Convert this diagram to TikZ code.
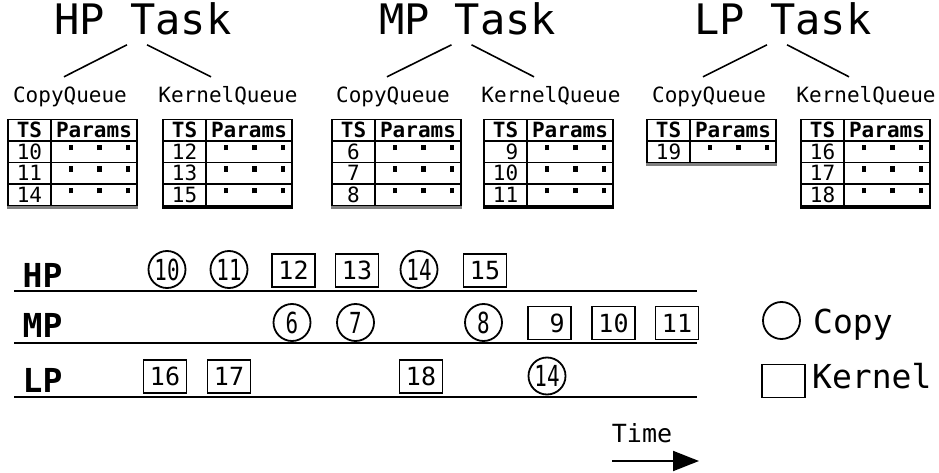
\documentclass[tikz,border=0pt]{standalone}
\usepackage{fontspec}
\setmainfont{DejaVu Sans Mono}
\newfontfamily\narrowmono[FakeStretch=0.72]{DejaVu Sans Mono}
\usetikzlibrary{arrows.meta}
\newcommand{\paramdots}{\hspace*{11pt}\rule[9pt]{4.5pt}{5.5pt}\hspace{24pt}\rule[9pt]{4.5pt}{5.5pt}\hspace{24pt}\rule[9pt]{4.5pt}{5.5pt}}

\begin{document}
\begin{tikzpicture}[
  x=1pt, y=-1pt,
  task/.style={font=\fontsize{42}{42}\selectfont, inner sep=0pt, anchor=base},
  queue/.style={font=\fontsize{21}{21}\selectfont, inner sep=0pt, anchor=base, text height=16pt, text depth=5pt},
  cell/.style={draw, line width=1.4pt, minimum height=21.5pt, inner sep=0pt, text height=15pt, text depth=0pt, font=\fontsize{21}{21}\selectfont},
  tscell/.style={cell, minimum width=43pt},
  parcell/.style={cell, minimum width=86pt},
  copyjob/.style={circle, draw, line width=1.8pt, minimum size=37pt, inner sep=0pt, font=\narrowmono\fontsize{29}{29}\selectfont},
  kerneljob/.style={rectangle, draw, line width=1.8pt, minimum width=43pt, minimum height=33pt, inner sep=0pt, font=\fontsize{25}{25}\selectfont},
  prio/.style={font=\bfseries\fontsize{33}{33}\selectfont, anchor=base west, inner sep=0pt},
  legend/.style={font=\fontsize{33}{33}\selectfont, anchor=base west, inner sep=0pt},
  lane/.style={line width=1.8pt},
  branch/.style={line width=1.6pt}
]
\useasboundingbox (0,0) rectangle (939,473);

\node[task] (hp) at (143,35) {HP Task};
\node[task] (mp) at (467.5,35) {MP Task};
\node[task] (lp) at (783,35) {LP Task};

\node[queue] (hp-cq) at (70,103) {CopyQueue};
\node[queue] (hp-kq) at (228,103) {KernelQueue};
\node[queue] (mp-cq) at (393,103) {CopyQueue};
\node[queue] (mp-kq) at (551,103) {KernelQueue};
\node[queue] (lp-cq) at (709,103) {CopyQueue};
\node[queue] (lp-kq) at (866,103) {KernelQueue};

\foreach \t in {hp,mp,lp} {
  \draw[branch] ([xshift=-16pt,yshift=-9pt]\t.south) -- ([xshift=-6pt,yshift=10pt]\t-cq.north);
  \draw[branch] ([xshift=4pt,yshift=-9pt]\t.south) -- ([xshift=-17pt,yshift=10pt]\t-kq.north);
}

\foreach \tb/\x/\vals/\n/\shade in {hpc/8/{10,11,14}/3/gray, hpk/163/{12,13,15}/3/black,
    mpc/332/{6,7,8}/3/gray, mpk/484/{{\phantom{1}9},10,11}/3/black,
    lpc/647/{19}/1/gray, lpk/801/{16,17,18}/3/black} {
  \node[tscell] (\tb-0-1) at (\x+21.5,130.25) {\textbf{TS}};
  \node[parcell] (\tb-0-2) at (\x+86,130.25) {\textbf{Params}};
  \foreach \v [count=\i] in \vals {
    \node[tscell] (\tb-\i-1) at (\x+21.5,130.25+21.5*\i) {\v};
    \node[parcell] (\tb-\i-2) at (\x+86,130.25+21.5*\i) {\paramdots};
  }
  \draw[line width=3.5pt,\shade] ([yshift=-1.5pt]\tb-\n-1.south west) -- ([yshift=-1.5pt]\tb-\n-2.south east);
}

\node[prio] (hprow) at (22.5,287) {HP};
\node[prio] (mprow) at (22.5,337) {MP};
\node[prio] (lprow) at (22.5,392) {LP};
\draw[lane] (14,291) -- (697,291);
\draw[lane] (14,343) -- (697,343);
\draw[lane] (14,397) -- (697,397);

\node[copyjob] (hp10) at (167,269.5) {10};
\node[copyjob] (hp11) at (229,269.5) {11};
\node[kerneljob] (hp12) at (293.5,270.5) {12};
\node[kerneljob] (hp13) at (357,270.5) {13};
\node[copyjob] (hp14) at (419,269.5) {14};
\node[kerneljob] (hp15) at (485,270.5) {15};

\node[copyjob] (mp6) at (292,322.5) {6};
\node[copyjob] (mp7) at (355.5,322.5) {7};
\node[copyjob] (mp8) at (483.5,322.5) {8};
\node[kerneljob] (mp9) at (549.5,323) {\phantom{1}9};
\node[kerneljob] (mp10) at (613.5,323) {10};
\node[kerneljob] (mp11) at (677,323) {11};

\node[kerneljob] (lp16) at (165,376.5) {16};
\node[kerneljob] (lp17) at (229,376.5) {17};
\node[kerneljob] (lp18) at (421,376.5) {18};
\node[copyjob] (lp14) at (547,376) {14};

\node[copyjob] (lgc) at (781.5,320.5) {};
\node[legend] (lgct) at (813,333) {Copy};
\node[kerneljob] (lgk) at (783.5,381) {};
\node[legend] (lgkt) at (812,388) {Kernel};

\node[font=\fontsize{25}{25}\selectfont, anchor=base, inner sep=0pt] (time) at (642,442) {Time};
\coordinate (t0) at (612,461);
\coordinate (t1) at (699,461);
\draw[line width=2pt, -{Triangle[length=26pt,width=20pt]}] (t0) -- (t1);
\end{tikzpicture}
\end{document}
